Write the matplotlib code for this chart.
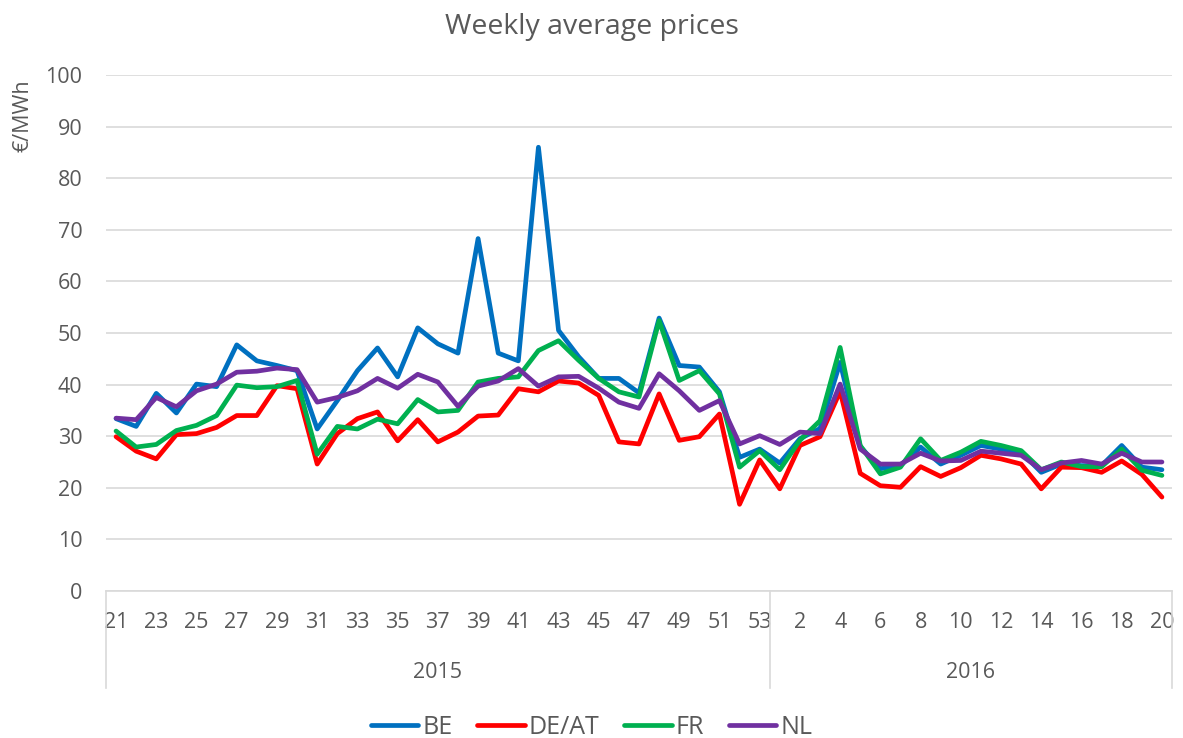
import matplotlib
matplotlib.use("Agg")
import matplotlib.pyplot as plt
from matplotlib.lines import Line2D
import numpy as np

plt.rcParams['font.family'] = ['Open Sans', 'DejaVu Sans']

# ---- data ----
weeks_2015 = list(range(21, 54))
weeks_2016 = list(range(1, 21))
years = ["2015", "2016"]
series_names = ["BE", "DE/AT", "FR", "NL"]

be = [33.4, 31.9, 38.3, 34.5, 40.1, 39.6, 47.7, 44.6, 43.7, 42.7,
      31.4, 36.9, 42.7, 47.1, 41.5, 51.0, 47.9, 46.1, 68.3, 46.1,
      44.6, 86.0, 50.5, 45.4, 41.2, 41.2, 38.4, 52.9, 43.7, 43.4,
      38.6, 25.9, 27.5,
      24.8, 29.5, 31.5, 44.3, 28.0, 23.7, 24.3, 27.9, 24.6, 26.3,
      28.2, 27.5, 26.9, 23.0, 24.6, 24.3, 24.3, 28.2, 24.0, 23.5]
de_at = [29.9, 27.1, 25.6, 30.3, 30.5, 31.7, 34.0, 34.0, 39.8, 39.2,
         24.6, 30.5, 33.4, 34.7, 29.1, 33.2, 28.9, 30.8, 33.9, 34.1,
         39.2, 38.6, 40.7, 40.3, 37.9, 28.9, 28.5, 38.2, 29.2, 29.9,
         34.3, 16.8, 25.4,
         19.8, 28.2, 29.9, 38.7, 22.8, 20.4, 20.1, 24.1, 22.2, 23.9,
         26.3, 25.6, 24.6, 19.8, 24.0, 23.9, 23.0, 25.2, 22.6, 18.2]
fr = [31.0, 27.9, 28.4, 31.1, 32.1, 34.0, 39.9, 39.4, 39.6, 40.8,
      26.5, 31.9, 31.4, 33.3, 32.4, 37.1, 34.7, 35.0, 40.5, 41.2,
      41.5, 46.6, 48.5, 44.7, 41.2, 38.6, 37.6, 52.4, 40.8, 42.7,
      38.2, 24.0, 27.2,
      23.5, 29.2, 33.0, 47.2, 28.2, 22.7, 24.0, 29.5, 25.3, 26.9,
      29.0, 28.2, 27.2, 23.5, 25.0, 24.1, 24.1, 27.5, 23.4, 22.4]
nl = [33.5, 33.2, 37.5, 35.7, 38.8, 40.1, 42.4, 42.6, 43.2, 42.9,
      36.6, 37.5, 38.8, 41.2, 39.3, 42.0, 40.5, 35.8, 39.7, 40.7,
      43.1, 39.7, 41.5, 41.6, 39.3, 36.6, 35.4, 42.1, 38.8, 35.0,
      36.9, 28.5, 30.1,
      28.4, 30.8, 30.5, 40.1, 27.5, 24.6, 24.6, 26.7, 25.2, 25.3,
      27.1, 26.7, 26.3, 23.5, 24.8, 25.3, 24.6, 26.7, 25.0, 25.0]

colors = ["#0070C0", "#FF0000", "#00B050", "#7030A0"]
text_color = "#595959"
grid_color = "#D9D9D9"

all_weeks = weeks_2015 + weeks_2016
n = len(all_weeks)
x = np.arange(n)

W, H = 1183, 738
fig = plt.figure(figsize=(W / 100, H / 100), dpi=100)
left, right, top, bottom = 106, 1172, 75, 591
ax = fig.add_axes([left / W, 1 - bottom / H, (right - left) / W, (bottom - top) / H])

for vals, c, name in zip([be, de_at, fr, nl], colors, series_names):
    ax.plot(x, vals, color=c, lw=3.4, solid_capstyle='round', solid_joinstyle='round',
            label=name, zorder=3)

ax.set_xlim(-0.5, n - 0.5)
ax.set_ylim(0, 100)
ax.set_yticks(np.arange(0, 101, 10))
ax.yaxis.grid(True, color=grid_color, lw=1.2, zorder=0)
for s in ["top", "right", "left"]:
    ax.spines[s].set_visible(False)
ax.spines["bottom"].set_color(grid_color)
ax.spines["bottom"].set_linewidth(1.2)
ax.tick_params(axis='y', length=0, pad=17, labelsize=15.5, labelcolor=text_color)

# x tick labels: every other week
tick_pos = [i for i in range(n) if (i < len(weeks_2015) and i % 2 == 0) or
            (i >= len(weeks_2015) and all_weeks[i] % 2 == 0)]
ax.set_xticks(tick_pos)
ax.set_xticklabels([str(all_weeks[i]) for i in tick_pos])
ax.tick_params(axis='x', length=0, pad=15, labelsize=15.5, labelcolor=text_color)

# multi-level category separators and year labels
trans = ax.get_xaxis_transform()
sep_bottom = -(688 - bottom) / (bottom - top)
n15 = len(weeks_2015)
for xs in [-0.5, n15 - 0.5, n - 0.5]:
    ax.plot([xs, xs], [0, sep_bottom], color=grid_color, lw=1.2, transform=trans,
            clip_on=False)
year_y = -(672 - bottom) / (bottom - top)
ax.text((n15 - 1) / 2, year_y, years[0], transform=trans, ha='center', va='center',
        fontsize=15.5, color=text_color)
ax.text((n15 + n - 1) / 2, year_y, years[1], transform=trans, ha='center', va='center',
        fontsize=15.5, color=text_color)

fig.text(0.5, 1 - 27 / H, "Weekly average prices", ha='center', va='center',
         fontsize=20.5, color=text_color)
fig.text(23 / W, 1 - 116 / H, "€/MWh", rotation=90, ha='center', va='center',
         fontsize=15.5, color=text_color)

handles = [Line2D([], [], color=c, lw=3.4, solid_capstyle='round') for c in colors]
leg = fig.legend(handles, series_names, loc='center', bbox_to_anchor=(0.5, 1 - 727 / H),
                 ncol=4, frameon=False, fontsize=18, handlelength=1.9,
                 handletextpad=0.15, columnspacing=1.0, labelcolor=text_color)

fig.savefig("out.png", dpi=100)
